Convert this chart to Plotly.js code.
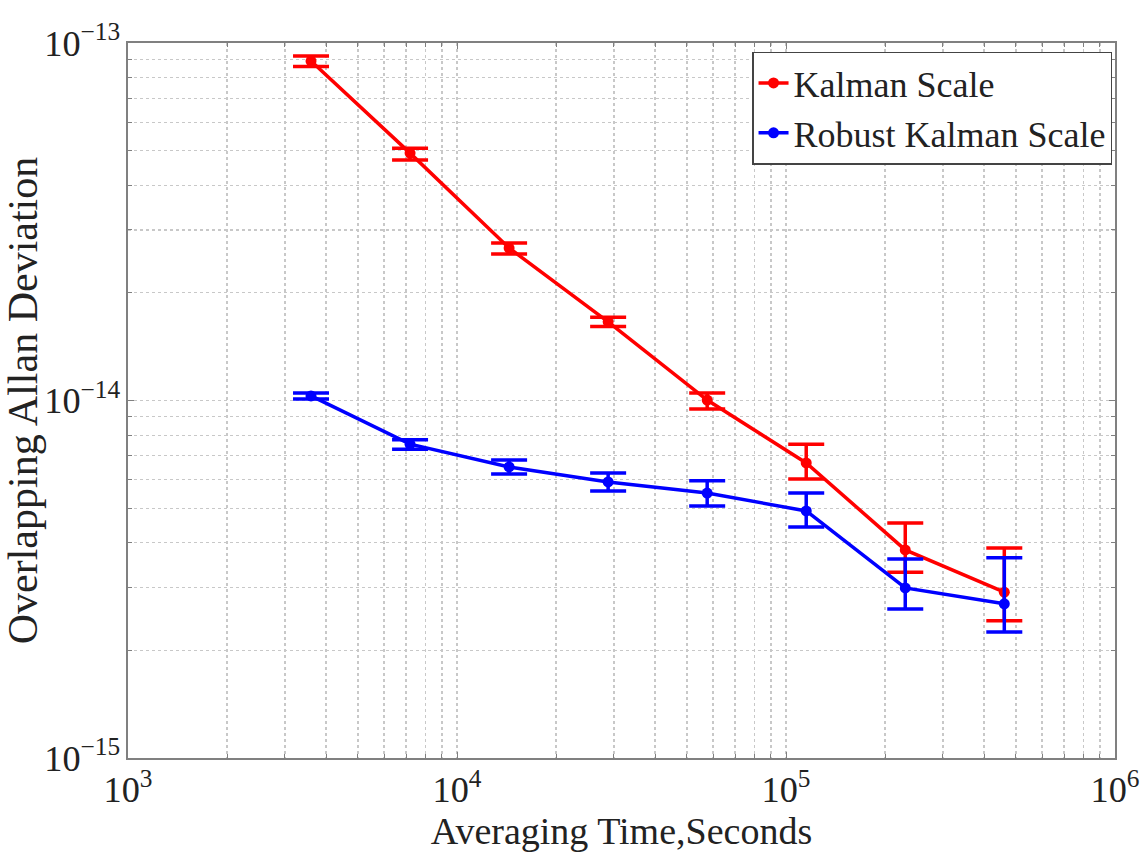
<!DOCTYPE html>
<html>
<head>
<meta charset="utf-8">
<script src="https://cdn.plot.ly/plotly-3.0.1.min.js"></script>
<style>html,body{margin:0;padding:0;background:#fff;}#chart{width:1148px;height:855px;}</style>
</head>
<body>
<div id="chart"></div>
<script>
// Averaging times (seconds)
const tau = [3600, 7200, 14400, 28800, 57600, 115200, 230400, 460800];

// Kalman Scale: value, upper bound, lower bound
const kalmanDev   = [8.9e-14, 4.92e-14, 2.67e-14, 1.66e-14, 1.003e-14, 6.69e-15, 3.82e-15, 2.91e-15];
const kalmanUpper = [9.2e-14, 5.08e-14, 2.76e-14, 1.71e-14, 1.05e-14, 7.55e-15, 4.54e-15, 3.87e-15];
const kalmanLower = [8.6e-14, 4.71e-14, 2.57e-14, 1.61e-14, 0.947e-14, 6.03e-15, 3.31e-15, 2.42e-15];

// Robust Kalman Scale: value, upper bound, lower bound
const robustDev   = [1.03e-14, 7.55e-15, 6.52e-15, 5.92e-15, 5.51e-15, 4.91e-15, 2.99e-15, 2.70e-15];
const robustUpper = [1.05e-14, 7.76e-15, 6.82e-15, 6.27e-15, 5.96e-15, 5.51e-15, 3.60e-15, 3.63e-15];
const robustLower = [1.01e-14, 7.31e-15, 6.23e-15, 5.58e-15, 5.07e-15, 4.43e-15, 2.61e-15, 2.25e-15];

const seriesNames = ['Kalman Scale', 'Robust Kalman Scale'];

function errPlus(v, up) { return v.map((d, i) => up[i] - d); }
function errMinus(v, lo) { return v.map((d, i) => d - lo[i]); }

function makeTrace(name, y, up, lo, color) {
  return {
    x: tau, y: y, name: name, type: 'scatter', mode: 'lines+markers',
    line: {color: color, width: 3.5},
    marker: {color: color, size: 11, symbol: 'circle'},
    error_y: {type: 'data', symmetric: false, array: errPlus(y, up), arrayminus: errMinus(y, lo),
              color: color, thickness: 3.5, width: 18}
  };
}

const traces = [
  makeTrace(seriesNames[0], kalmanDev, kalmanUpper, kalmanLower, '#ff0000'),
  makeTrace(seriesNames[1], robustDev, robustUpper, robustLower, '#0000ff')
];

const font = 'Liberation Serif';
const gridColor = '#c8c8c8';

const axisCommon = {
  type: 'log', showline: true, linecolor: '#808080', linewidth: 2, mirror: 'ticks',
  ticks: 'inside', ticklen: 6, tickcolor: '#808080', dtick: 1,
  exponentformat: 'power', showexponent: 'all',
  showgrid: true, gridcolor: gridColor, griddash: 'dot', gridwidth: 1.5,
  tickfont: {family: font, size: 29, color: '#222'},
  zeroline: false,
  minor: {showgrid: true, gridcolor: gridColor, griddash: 'dot', gridwidth: 1.2, ticks: 'inside', ticklen: 4, tickcolor: '#808080'}
};

const layout = {
  width: 1148, height: 855,
  margin: {l: 128, r: 33, t: 43, b: 97},
  paper_bgcolor: '#fff', plot_bgcolor: '#fff',
  showlegend: true,
  legend: {x: 0.997, y: 0.988, xanchor: 'right', yanchor: 'top',
           bgcolor: '#fff', bordercolor: '#444', borderwidth: 1.5,
           font: {family: font, size: 36, color: '#222'}, tracegroupgap: 0, itemwidth: 30},
  xaxis: Object.assign({}, axisCommon, {
    range: [3, 6],
    title: {text: 'Averaging Time,Seconds', font: {family: font, size: 38, color: '#222'}, standoff: 2}
  }),
  yaxis: Object.assign({}, axisCommon, {
    range: [-15, -13],
    title: {text: 'Overlapping Allan Deviation', font: {family: font, size: 42, color: '#222'}, standoff: 6}
  })
};

Plotly.newPlot('chart', traces, layout, {displayModeBar: false, staticPlot: true});
</script>
</body>
</html>
